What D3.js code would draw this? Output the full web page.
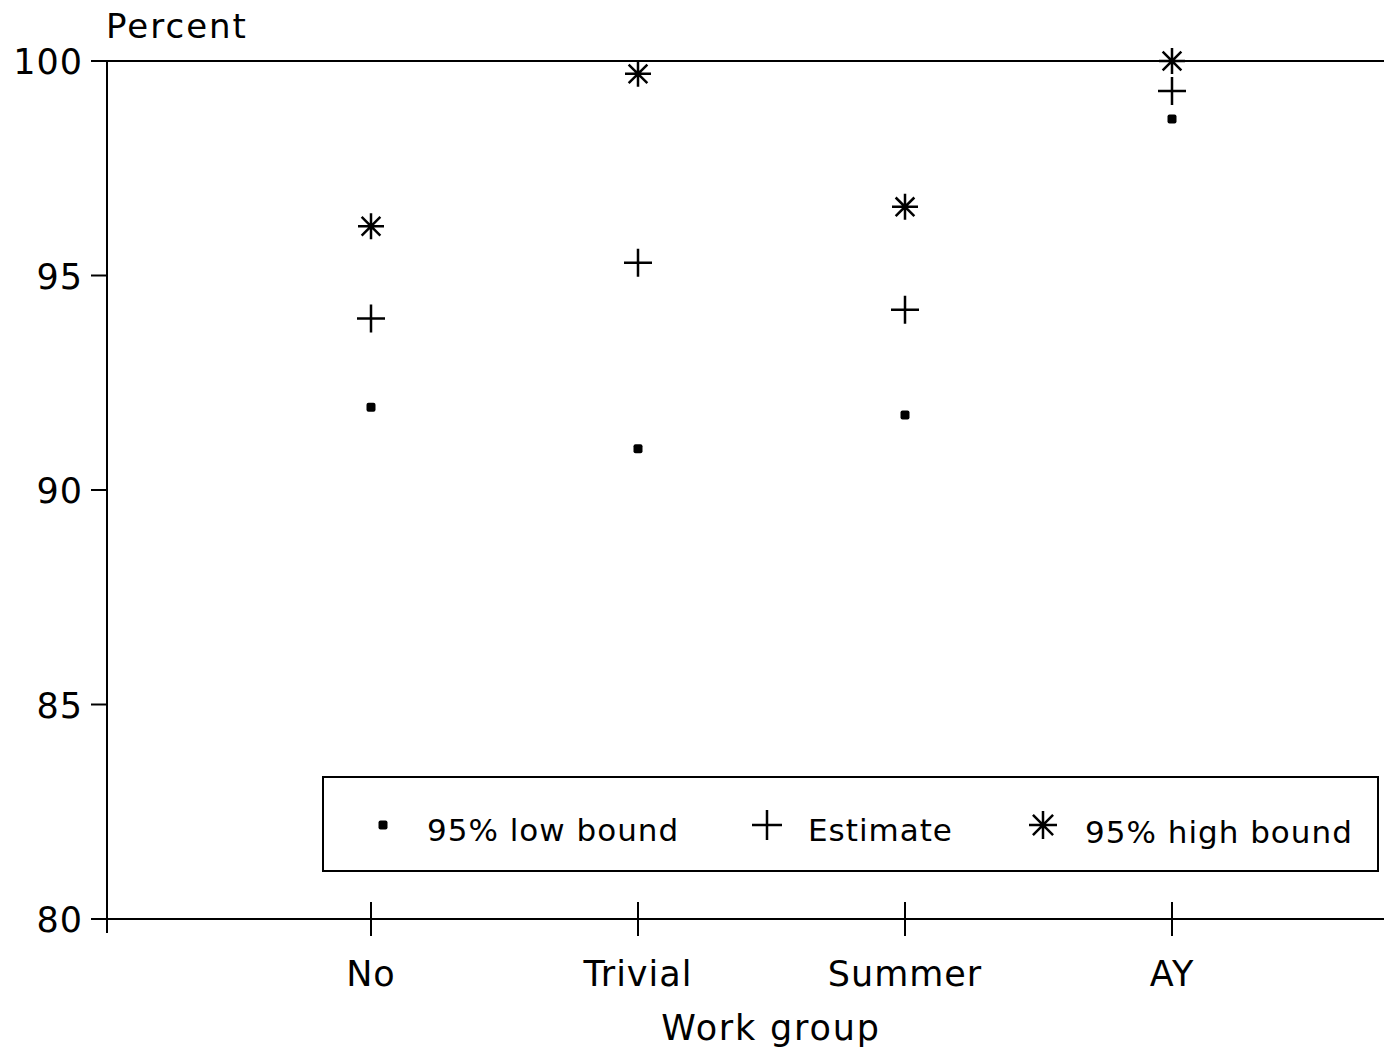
<!DOCTYPE html>
<html>
<head>
<meta charset="utf-8">
<script src="https://cdn.jsdelivr.net/npm/d3@7"></script>
<style>
  body { margin: 0; background: #fff; }
  text { font-family: "DejaVu Sans", sans-serif; fill: #000; letter-spacing: 1px; }
</style>
</head>
<body>
<svg id="chart" width="1384" height="1051"></svg>
<script>
var groups = ["No", "Trivial", "Summer", "AY"];
var lowBound = [91.93, 90.96, 91.75, 98.65];
var estimate = [94.0, 95.3, 94.2, 99.3];
var highBound = [96.15, 99.7, 96.6, 100.0];
var yTicks = [80, 85, 90, 95, 100];

var svg = d3.select("#chart");
var pLeft = 107, pRight = 1384, pTop = 61, pBottom = 919;

var x = d3.scalePoint().domain(groups).range([371, 1172]);
var y = d3.scaleLinear().domain([80, 100]).range([pBottom, pTop]);

// frame: top + bottom lines, left axis
svg.append("line").attr("x1", pLeft).attr("x2", pRight).attr("y1", pTop).attr("y2", pTop)
  .attr("stroke", "#000").attr("stroke-width", 2);
svg.append("line").attr("x1", pLeft).attr("x2", pRight).attr("y1", pBottom).attr("y2", pBottom)
  .attr("stroke", "#000").attr("stroke-width", 2);
svg.append("line").attr("x1", pLeft).attr("x2", pLeft).attr("y1", pTop).attr("y2", pBottom + 14)
  .attr("stroke", "#000").attr("stroke-width", 2);

// y ticks
var yt = svg.append("g").selectAll("g").data(yTicks).enter().append("g");
yt.append("line").attr("x1", pLeft - 16).attr("x2", pLeft).attr("y1", function(d) { return y(d); })
  .attr("y2", function(d) { return y(d); }).attr("stroke", "#000").attr("stroke-width", 2);
yt.append("text").attr("x", pLeft - 24).attr("y", function(d) { return y(d) + 13; })
  .attr("text-anchor", "end").attr("font-size", 35).text(function(d) { return d; });

svg.append("text").attr("x", 106).attr("y", 38).attr("font-size", 34)
  .style("letter-spacing", "2px").text("Percent");

// x ticks
var xt = svg.append("g").selectAll("g").data(groups).enter().append("g");
xt.append("line").attr("x1", function(d) { return x(d); }).attr("x2", function(d) { return x(d); })
  .attr("y1", pBottom - 17).attr("y2", pBottom + 17).attr("stroke", "#000").attr("stroke-width", 2);
xt.append("text").attr("x", function(d) { return x(d); }).attr("y", 986)
  .attr("text-anchor", "middle").attr("font-size", 35).text(function(d) { return d; });

svg.append("text").attr("x", 771).attr("y", 1040).attr("text-anchor", "middle")
  .attr("font-size", 35).style("letter-spacing", "1.8px").text("Work group");

// marker drawers
var drawDot = function(g, cx, cy) {
  g.append("rect").attr("x", cx - 4.5).attr("y", cy - 4.5).attr("width", 9).attr("height", 9)
    .attr("rx", 2).attr("fill", "#000");
};
var drawPlus = function(g, cx, cy, s) {
  g.append("path").attr("d", "M" + (cx - s) + "," + cy + "H" + (cx + s) + "M" + cx + "," + (cy - s) + "V" + (cy + s))
    .attr("stroke", "#000").attr("stroke-width", 2.5).attr("fill", "none");
};
var drawStar = function(g, cx, cy, s) {
  var d = "M" + cx + "," + (cy - s) + "V" + (cy + s) + "M" + (cx - s) + "," + cy + "H" + (cx + s);
  var k = s * 0.72;
  d += "M" + (cx - k) + "," + (cy - k) + "L" + (cx + k) + "," + (cy + k);
  d += "M" + (cx - k) + "," + (cy + k) + "L" + (cx + k) + "," + (cy - k);
  g.append("path").attr("d", d).attr("stroke", "#000").attr("stroke-width", 2.5).attr("fill", "none");
};

var pts = svg.append("g");
groups.forEach(function(g, i) {
  drawDot(pts, x(g), y(lowBound[i]));
  drawPlus(pts, x(g), y(estimate[i]), 14);
  drawStar(pts, x(g), y(highBound[i]), 13);
});

// legend
var lg = svg.append("g");
lg.append("rect").attr("x", 323).attr("y", 777).attr("width", 1055).attr("height", 94)
  .attr("fill", "#fff").attr("stroke", "#000").attr("stroke-width", 2);
drawDot(lg, 383, 825);
lg.append("text").attr("x", 427).attr("y", 841).attr("font-size", 31).text("95% low bound");
drawPlus(lg, 767, 825, 15);
lg.append("text").attr("x", 808).attr("y", 841).attr("font-size", 31).text("Estimate");
drawStar(lg, 1043, 825, 14);
lg.append("text").attr("x", 1085).attr("y", 843).attr("font-size", 31).text("95% high bound");
</script>
</body>
</html>
